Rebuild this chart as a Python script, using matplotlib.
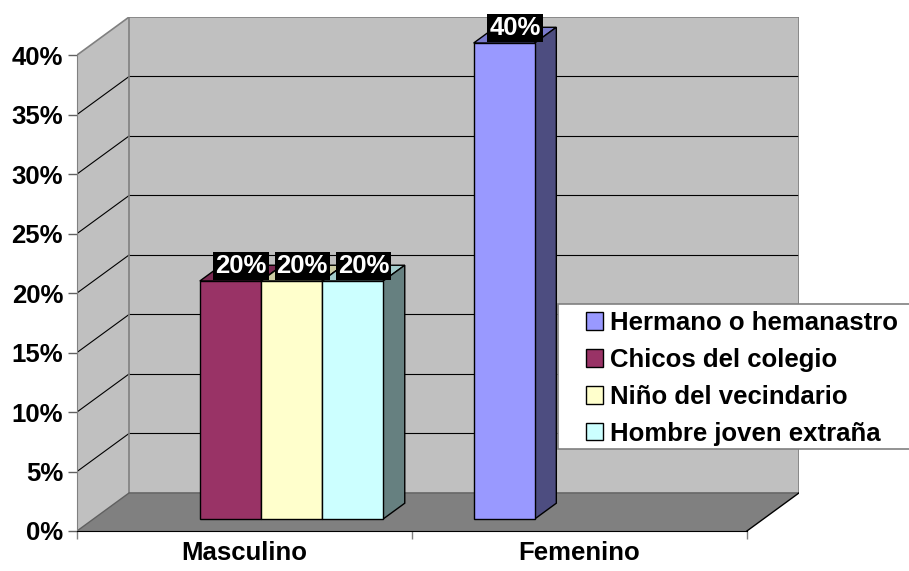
import matplotlib.pyplot as plt
from matplotlib.patches import Polygon, Rectangle, Patch
import matplotlib.colors as mcolors

# Values (share of answers per group, in %)
categories = ["Masculino", "Femenino"]
series_names = ["Hermano o hemanastro", "Chicos del colegio",
                "Niño del vecindario", "Hombre joven extraña"]
hermano = [0, 40]
chicos = [20, 0]
nino = [20, 0]
hombre = [20, 0]
series_values = [hermano, chicos, nino, hombre]
series_colors = ["#9999FF", "#993366", "#FFFFCC", "#CCFFFF"]
y_ticks = [0, 5, 10, 15, 20, 25, 30, 35, 40]
y_tick_labels = ["0%", "5%", "10%", "15%", "20%", "25%", "30%", "35%", "40%"]

plt.rcParams["font.family"] = ["Liberation Sans", "DejaVu Sans"]
plt.rcParams["font.weight"] = "bold"
FS = 18.5

# Fake 3D: depth direction expressed in data units
DX = 0.1555
DY = 3.2
D0, D1 = 0.316, 0.73      # bar depth range (fraction of the floor depth)
W = 0.1825                # bar slot width
MARGIN = (1 - 4 * W) / 2
YMAX = 40


def shade(color, f):
    r, g, b = mcolors.to_rgb(color)
    return (r * f, g * f, b * f)


fig = plt.figure(figsize=(9.09, 5.71), dpi=100)
ax = fig.add_axes([77 / 909, 40 / 571, 722 / 909, 514 / 571])
ax.set_xlim(0, 2 + DX)
ax.set_ylim(0, YMAX + DY)
ax.patch.set_visible(False)

# walls and floor
ncat = len(categories)
back = Polygon([(DX, DY), (ncat + DX, DY), (ncat + DX, YMAX + DY), (DX, YMAX + DY)],
               closed=True, fc="#C0C0C0", ec="none", zorder=0)
left = Polygon([(0, 0), (DX, DY), (DX, YMAX + DY), (0, YMAX)],
               closed=True, fc="#C0C0C0", ec="none", zorder=0)
floor = Polygon([(0, 0), (ncat, 0), (ncat + DX, DY), (DX, DY)],
                closed=True, fc="#808080", ec="none", zorder=0)
for p in (back, left, floor):
    ax.add_patch(p)

# gridlines on back and left walls
for v in y_ticks[1:-1]:
    ax.plot([DX, ncat + DX], [v + DY, v + DY], color="black", lw=0.8, zorder=1)
    ax.plot([0, DX], [v, v + DY], color="black", lw=0.8, zorder=1)

# wall borders
ax.plot([0, DX, ncat + DX, ncat + DX], [YMAX, YMAX + DY, YMAX + DY, DY],
        color="#808080", lw=1.2, zorder=1)
ax.plot([DX, DX], [DY, YMAX + DY], color="#808080", lw=1.2, zorder=1)
ax.plot([0, DX, ncat + DX], [0, DY, DY], color="#606060", lw=1, zorder=1)
ax.plot([ncat, ncat + DX], [0, DY], color="black", lw=1, zorder=1)

# bars
b0 = D0 * DY
ddx = (D1 - D0) * DX
ddy = (D1 - D0) * DY
for j, (vals, col) in enumerate(zip(series_values, series_colors)):
    for i, v in enumerate(vals):
        if v <= 0:
            continue
        x0 = i + MARGIN + j * W + D0 * DX
        z = 3 + j
        top = Polygon([(x0, v + b0), (x0 + W, v + b0),
                       (x0 + W + ddx, v + b0 + ddy), (x0 + ddx, v + b0 + ddy)],
                      closed=True, fc=shade(col, 0.8), ec="black", lw=1, zorder=z)
        side = Polygon([(x0 + W, b0), (x0 + W, b0 + v),
                        (x0 + W + ddx, b0 + v + ddy), (x0 + W + ddx, b0 + ddy)],
                       closed=True, fc=shade(col, 0.5), ec="black", lw=1, zorder=z)
        ax.add_patch(top)
        ax.add_patch(side)
        ax.bar(x0, v, width=W, bottom=b0, align="edge", color=col,
               edgecolor="black", linewidth=1, zorder=z + 0.5)
        ax.annotate(f"{v}%", xy=(x0 + W / 2 + ddx / 2, v + b0 + ddy / 2),
                    xytext=(0, 5), textcoords="offset points",
                    ha="center", va="center", color="white", fontsize=FS,
                    fontweight="bold", zorder=20,
                    bbox=dict(boxstyle="square,pad=0.08", fc="black", ec="none"))

# axes, ticks
for s in ("top", "right"):
    ax.spines[s].set_visible(False)
ax.spines["left"].set_bounds(0, YMAX)
ax.spines["left"].set_color("#808080")
ax.spines["bottom"].set_bounds(0, ncat)
ax.spines["bottom"].set_color("black")
ax.set_yticks(y_ticks)
ax.set_yticklabels(y_tick_labels)
ax.tick_params(axis="y", length=6.5, width=1, color="#606060", pad=3.5,
               labelsize=FS)
ax.set_xticks(range(ncat + 1))
ax.set_xticklabels([])
ax.tick_params(axis="x", which="major", length=5.8, width=1, color="#808080")
ax.set_xticks([i + 0.5 for i in range(ncat)], minor=True)
ax.set_xticklabels(categories, minor=True)
ax.tick_params(axis="x", which="minor", length=0, pad=7.5, labelsize=FS)

# legend with its own box
fig.patches.append(Rectangle((558 / 909, 122 / 571), 360 / 909, 145 / 571,
                             transform=fig.transFigure, fc="white",
                             ec="#808080", lw=1.2, zorder=30))
handles = [Patch(fc=c, ec="black", lw=1) for c in series_colors]
leg = fig.legend(handles, series_names, loc="upper left",
                 bbox_to_anchor=(586 / 909, 1 - 311 / 571), frameon=False,
                 fontsize=FS, handlelength=0.68, handleheight=0.68,
                 handletextpad=0.25, labelspacing=0.5, borderpad=0,
                 borderaxespad=0)
leg.set_zorder(31)

fig.savefig("out.png", dpi=100)
